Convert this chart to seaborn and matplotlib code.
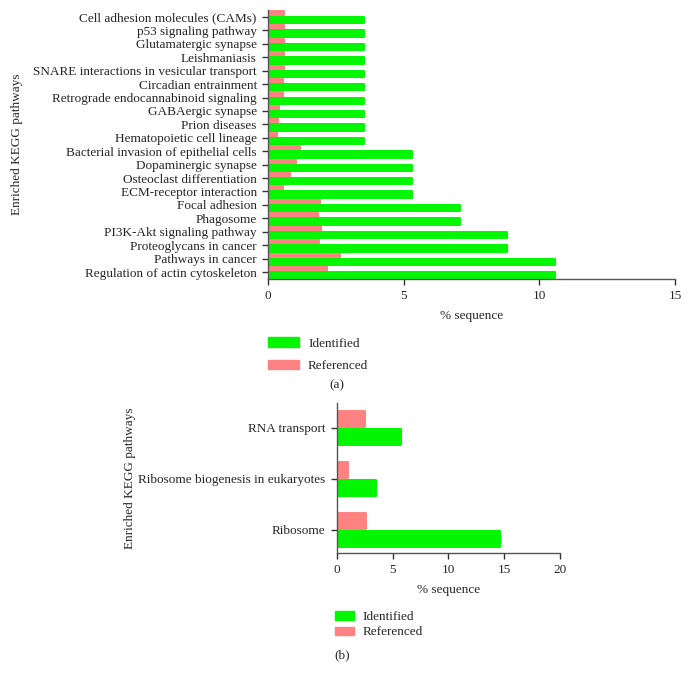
import pandas as pd
import seaborn as sns
import matplotlib.pyplot as plt
from matplotlib.patches import Patch

sns.set_style('ticks')
plt.rcParams['font.family'] = ['Liberation Serif', 'DejaVu Serif']

# Panel (a) data, listed top to bottom
pathways_a = [
    'Cell adhesion molecules (CAMs)', 'p53 signaling pathway', 'Glutamatergic synapse',
    'Leishmaniasis', 'SNARE interactions in vesicular transport', 'Circadian entrainment',
    'Retrograde endocannabinoid signaling', 'GABAergic synapse', 'Prion diseases',
    'Hematopoietic cell lineage', 'Bacterial invasion of epithelial cells',
    'Dopaminergic synapse', 'Osteoclast differentiation', 'ECM-receptor interaction',
    'Focal adhesion', 'Phagosome', 'PI3K-Akt signaling pathway', 'Proteoglycans in cancer',
    'Pathways in cancer', 'Regulation of actin cytoskeleton',
]
identified_a = [3.53, 3.53, 3.53, 3.53, 3.53, 3.53, 3.53, 3.53, 3.53, 3.53,
                5.29, 5.29, 5.29, 5.29, 7.06, 7.06, 8.82, 8.82, 10.59, 10.59]
referenced_a = [0.60, 0.60, 0.58, 0.58, 0.58, 0.55, 0.54, 0.39, 0.36, 0.32,
                1.18, 1.02, 0.80, 0.57, 1.92, 1.84, 1.94, 1.89, 2.65, 2.16]

# Panel (b) data, top to bottom
pathways_b = ['RNA transport', 'Ribosome biogenesis in eukaryotes', 'Ribosome']
identified_b = [5.73, 3.49, 14.6]
referenced_b = [2.55, 0.98, 2.65]

colors = {'Identified': '#00f700', 'Referenced': '#ff8282'}


def long_df(paths, ident, ref):
    return pd.concat([
        pd.DataFrame({'pathway': paths, 'value': ident, 'set': 'Identified'}),
        pd.DataFrame({'pathway': paths, 'value': ref, 'set': 'Referenced'}),
    ])


def draw(ax, df, order, width, gap, lw):
    sns.barplot(data=df, x='value', y='pathway', hue='set', order=order,
                hue_order=['Referenced', 'Identified'], palette=colors,
                orient='h', width=width, gap=gap, saturation=1, legend=False, ax=ax)
    # soften bar corners
    for p in ax.patches:
        p.set_edgecolor(p.get_facecolor())
        p.set_linewidth(lw)
        p.set_joinstyle('round')
    sns.despine(ax=ax)
    for s in ['left', 'bottom']:
        ax.spines[s].set_color('#555555')
        ax.spines[s].set_linewidth(1.0)
    ax.tick_params(axis='both', length=4.5, width=1, color='#333333', labelsize=9.5)
    ax.set_xlabel('% sequence', fontsize=9.5, labelpad=6)
    ax.set_ylabel('Enriched KEGG pathways', fontsize=9.5)


fig = plt.figure(figsize=(6.88, 6.81), dpi=100)

ax_a = fig.add_axes([0.3895, 0.5903, 0.5916, 0.3950])
draw(ax_a, long_df(pathways_a, identified_a, referenced_a), pathways_a, 0.95, 0, 1.4)
ax_a.set_xlim(0, 15)
ax_a.set_xticks([0, 5, 10, 15])
ax_a.set_ylim(len(pathways_a) - 0.48, -0.52)
ax_a.yaxis.set_label_coords(-0.603, 0.5)

ax_b = fig.add_axes([0.4894, 0.188, 0.3246, 0.220])
draw(ax_b, long_df(pathways_b, identified_b, referenced_b), pathways_b, 0.7, 0.1, 1.4)
ax_b.set_xlim(0, 20)
ax_b.set_xticks([0, 5, 10, 15, 20])
ax_b.set_ylim(2.45, -0.48)
ax_b.yaxis.set_label_coords(-0.899, 0.5)

handles = [Patch(facecolor=colors['Identified'], edgecolor=colors['Identified'], joinstyle='round', label='Identified'),
           Patch(facecolor=colors['Referenced'], edgecolor=colors['Referenced'], joinstyle='round', label='Referenced')]
fig.legend(handles=handles, loc='upper left', bbox_to_anchor=(0.373, 0.522), frameon=False,
           fontsize=9.5, handlelength=2.3, handleheight=0.7, handletextpad=0.7, labelspacing=0.75)
fig.legend(handles=handles, loc='upper left', bbox_to_anchor=(0.470, 0.120), frameon=False,
           fontsize=9.5, handlelength=1.4, handleheight=0.6, handletextpad=0.7, labelspacing=0.25)

fig.text(337 / 688, 1 - 385 / 681, '(a)', ha='center', va='center', fontsize=9.5)
fig.text(342 / 688, 1 - 655 / 681, '(b)', ha='center', va='center', fontsize=9.5)

plt.savefig('out.png', dpi=100)
